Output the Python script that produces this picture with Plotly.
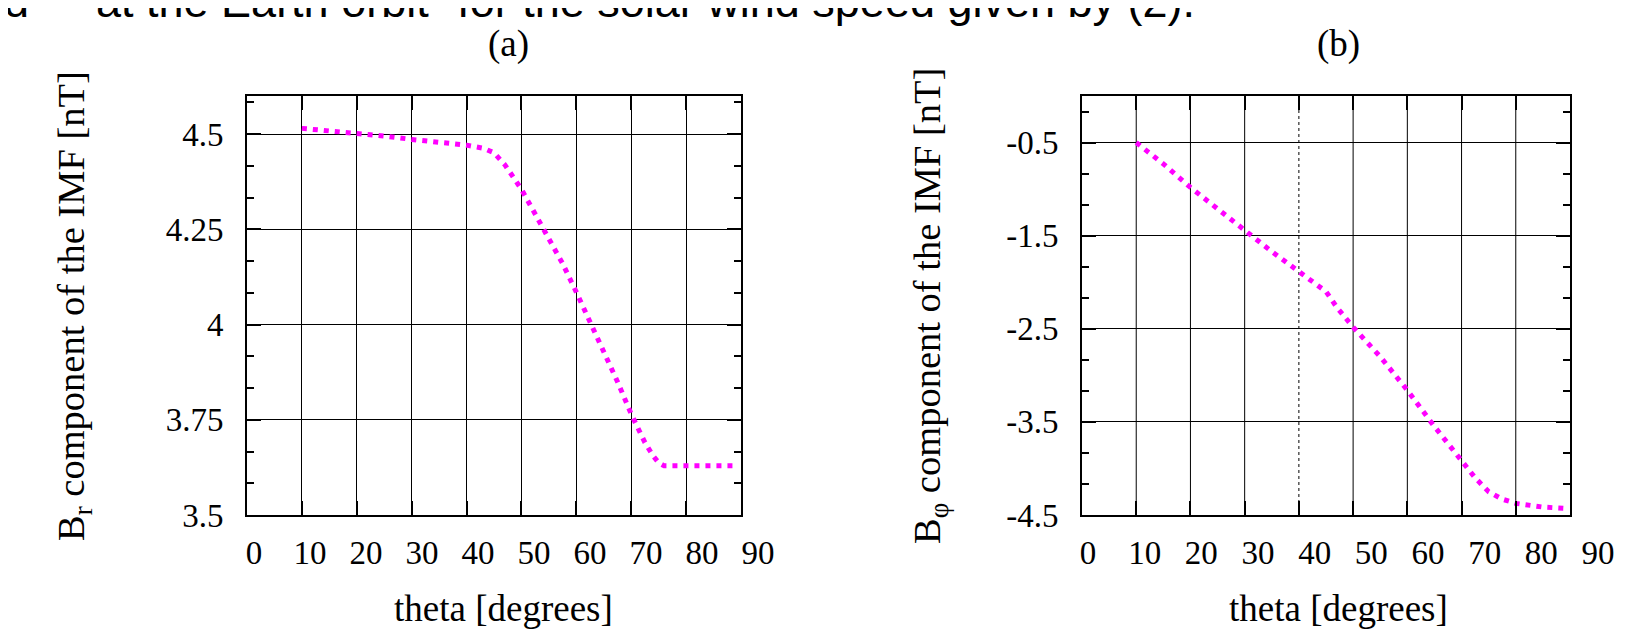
import plotly.graph_objects as go

# ---------------- data ----------------
X_TICKS = [0, 10, 20, 30, 40, 50, 60, 70, 80, 90]
X_TICK_TEXT = ["0", "10", "20", "30", "40", "50", "60", "70", "80", "90"]

BR_TICKS = [3.5, 3.75, 4.0, 4.25, 4.5]
BR_TICK_TEXT = ["3.5", "3.75", "4", "4.25", "4.5"]

BPHI_TICKS = [-4.5, -3.5, -2.5, -1.5, -0.5]
BPHI_TICK_TEXT = ["-4.5", "-3.5", "-2.5", "-1.5", "-0.5"]

BR_THETA = [10, 15, 20, 25, 30, 35, 40, 43, 45, 47, 50, 52.5, 55, 57.5, 60,
            62.5, 65, 67.5, 70, 72.5, 74, 75, 76, 78, 80, 85, 89.3]
BR = [4.515, 4.509, 4.502, 4.495, 4.486, 4.479, 4.471, 4.463, 4.451, 4.419,
      4.355, 4.29, 4.228, 4.16, 4.085, 4.008, 3.93, 3.85, 3.765, 3.69, 3.655,
      3.637, 3.629, 3.629, 3.629, 3.629, 3.629]

BPHI_THETA = [10, 15, 20, 25, 30, 35, 40, 42, 44, 45, 47, 50, 55, 60, 65, 70,
              72.5, 75, 77.5, 80, 85, 89.5]
BPHI = [-0.5, -0.729, -0.982, -1.214, -1.446, -1.671, -1.886, -1.97, -2.05,
        -2.1, -2.27, -2.482, -2.80, -3.16, -3.55, -3.91, -4.10, -4.25, -4.33,
        -4.375, -4.415, -4.43]

CAPTION = 'at the Earth orbit" for the solar wind speed given by (2).'

# ---------------- figure ----------------
W, H = 1645, 631
SERIF = "Liberation Serif, Times New Roman, serif"
SANS = "Liberation Sans, Arial, sans-serif"
MAG = "#ff00ff"
TICKFONT = dict(family=SERIF, size=33, color="black")

fig = go.Figure()
fig.add_trace(go.Scatter(x=BR_THETA, y=BR, mode="lines", xaxis="x", yaxis="y",
                         line=dict(color=MAG, width=5, dash="5px,6px"),
                         showlegend=False, hoverinfo="skip"))
fig.add_trace(go.Scatter(x=BPHI_THETA, y=BPHI, mode="lines", xaxis="x2", yaxis="y2",
                         line=dict(color=MAG, width=5, dash="5px,6px"),
                         showlegend=False, hoverinfo="skip"))
# empty traces that carry the (slightly wider spaced) tick-label axes
fig.add_trace(go.Scatter(x=[None], y=[None], xaxis="x3", yaxis="y3",
                         showlegend=False, hoverinfo="skip"))
fig.add_trace(go.Scatter(x=[None], y=[None], xaxis="x4", yaxis="y4",
                         showlegend=False, hoverinfo="skip"))

ydom = [1 - 507 / H, 1 - 88 / H]

frame_x = dict(range=[0, 90], tickmode="array", tickvals=X_TICKS,
               ticks="inside", ticklen=14, tickwidth=2, tickcolor="black",
               showline=True, linewidth=2, linecolor="black", mirror="ticks",
               gridcolor="black", gridwidth=1, zeroline=False,
               showticklabels=False, automargin=False)
label_x = dict(range=[0, 90], tickmode="array", tickvals=X_TICKS, ticktext=X_TICK_TEXT,
               ticks="", showline=False, showgrid=False, zeroline=False,
               tickfont=TICKFONT, ticklabelstandoff=15, automargin=False)
hidden_y = dict(domain=ydom, range=[0, 1], visible=False, showgrid=False,
                zeroline=False, automargin=False)
common_y = dict(ticks="inside", ticklen=14, tickwidth=2, tickcolor="black",
                showline=True, linewidth=2, linecolor="black", mirror="ticks",
                showgrid=True, gridcolor="black", gridwidth=1, zeroline=False,
                tickfont=TICKFONT, ticklabelstandoff=15, tickmode="array",
                automargin=False)

fig.update_layout(
    width=W, height=H,
    margin=dict(l=0, r=0, t=0, b=0),
    paper_bgcolor="white", plot_bgcolor="rgba(0,0,0,0)",
    xaxis=dict(domain=[239 / W, 733 / W], anchor="y", showgrid=True, **frame_x),
    yaxis=dict(domain=ydom, anchor="x", range=[3.5, 4.6],
               tickvals=BR_TICKS, ticktext=BR_TICK_TEXT,
               minor=dict(tickmode="linear", tick0=3.5, dtick=0.25 / 3, ticks="inside",
                          ticklen=7, tickwidth=2, tickcolor="black", showgrid=False),
               **common_y),
    xaxis2=dict(domain=[1074 / W, 1562 / W], anchor="y2", showgrid=False, **frame_x),
    yaxis2=dict(domain=ydom, anchor="x2", range=[-4.5, 0],
                tickvals=BPHI_TICKS, ticktext=BPHI_TICK_TEXT,
                minor=dict(tickmode="linear", tick0=-0.5, dtick=1 / 3, ticks="inside",
                           ticklen=7, tickwidth=2, tickcolor="black", showgrid=False),
                **common_y),
    xaxis3=dict(domain=[246 / W, 750 / W], anchor="y3", **label_x),
    yaxis3=dict(anchor="x3", **hidden_y),
    xaxis4=dict(domain=[1080 / W, 1590 / W], anchor="y4", **label_x),
    yaxis4=dict(anchor="x4", **hidden_y),
)

# vertical grid lines of panel (b); the one at 40 degrees is dotted
for v in X_TICKS[1:-1]:
    fig.add_shape(type="line", xref="x2", yref="y2 domain", x0=v, x1=v, y0=0, y1=1,
                  layer="below",
                  line=dict(color="black", width=1, dash="dot" if v == 40 else "solid"))

ann = []
def txt(s, x, y, size=37, fam=SERIF, angle=0, xa="center", ya="middle"):
    ann.append(dict(text=s, x=x / W, y=1 - y / H, xref="paper", yref="paper",
                    showarrow=False, textangle=angle, xanchor=xa, yanchor=ya,
                    borderpad=0, font=dict(family=fam, size=size, color="black")))

txt("(a)", 500, 36)
txt("(b)", 1330, 36)
txt("theta [degrees]", 495, 600)
txt("theta [degrees]", 1330, 600)
txt("B<sub>r</sub> component of the IMF [nT]", 66, 298, size=38.5, angle=-90)
txt("B<sub>φ</sub> component of the IMF [nT]", 922, 298, size=38.5, angle=-90)
# clipped caption line at the top of the page
txt("d", 22, -7, size=45, fam=SANS, xa="right")
txt(CAPTION, 87, -7, size=45, fam=SANS, xa="left")
fig.update_layout(annotations=ann)

fig.write_html("out.html")
